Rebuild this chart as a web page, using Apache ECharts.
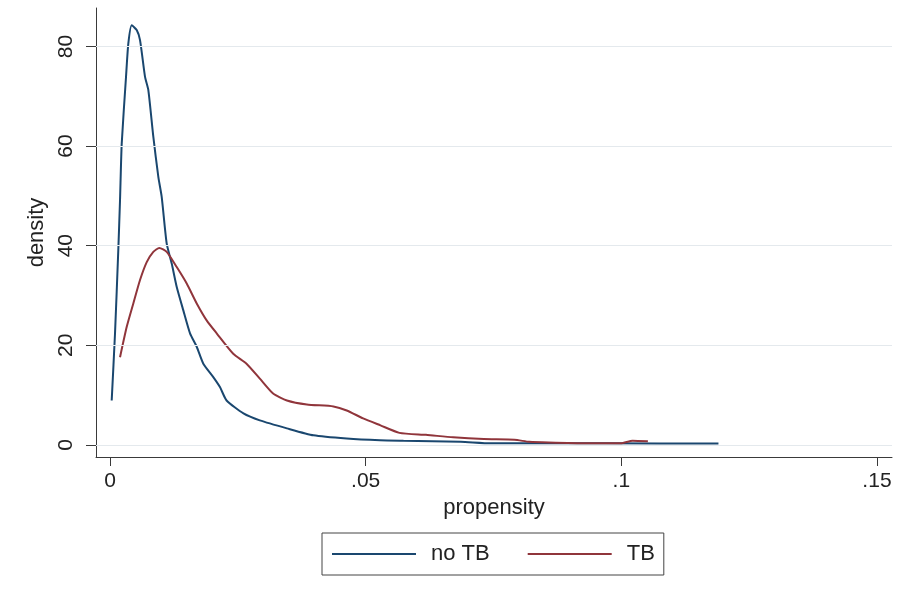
<!DOCTYPE html>
<html>
<head>
<meta charset="utf-8">
<script src="https://cdn.jsdelivr.net/npm/echarts@6/dist/echarts.min.js"></script>
<style>
  html, body { margin: 0; padding: 0; background: #fff; }
  #chart { width: 906px; height: 599px; }
</style>
</head>
<body>
<div id="chart"></div>
<script>
// kernel density of propensity score
const noTB = [
  [0.00033, 8.9], [0.00098, 22.4], [0.00162, 39.1], [0.00196, 49.2],
  [0.00229, 60.5], [0.00313, 73.9], [0.00358, 80.6], [0.00424, 84.3],
  [0.00522, 83.3], [0.00587, 81.3], [0.00685, 73.9], [0.00749, 71.3],
  [0.00847, 61.9], [0.00945, 53.8], [0.01011, 49.8], [0.01109, 40.4],
  [0.01207, 36.4], [0.01305, 31.7], [0.01434, 27.0], [0.01565, 22.4],
  [0.01696, 19.7], [0.01825, 16.3], [0.0202, 13.6], [0.0215, 11.6],
  [0.0228, 8.9], [0.0261, 6.3], [0.0293, 4.9], [0.0346, 3.3],
  [0.0398, 1.9], [0.0463, 1.25], [0.0528, 0.9], [0.0574, 0.8],
  [0.0686, 0.6], [0.0745, 0.3], [0.097, 0.3], [0.119, 0.25]
]

const TB = [
  [0.00196, 17.6], [0.00327, 23.7], [0.00456, 28.4], [0.00587, 33.1],
  [0.00718, 36.7], [0.00847, 38.75], [0.00964, 39.55], [0.01109, 38.75],
  [0.01305, 35.7], [0.0150, 32.4], [0.01696, 28.4], [0.0189, 25.0],
  [0.0209, 22.35], [0.0241, 18.3], [0.0267, 16.3], [0.0293, 13.3],
  [0.0319, 10.3], [0.0346, 8.9], [0.0385, 8.1], [0.0437, 7.7],
  [0.0463, 6.9], [0.0495, 5.3], [0.0529, 3.9], [0.0566, 2.4],
  [0.0618, 2.0], [0.0671, 1.5], [0.0731, 1.15], [0.0791, 1.0],
  [0.0820, 0.6], [0.0858, 0.45], [0.0933, 0.3], [0.0999, 0.3],
  [0.1022, 0.8], [0.1052, 0.7]
]

const xTicks = [0, 0.05, 0.1, 0.15]
const yTicks = [0, 20, 40, 60, 80]
const seriesNames = ['no TB', 'TB']

const chart = echarts.init(document.getElementById('chart'), null, {
  renderer: 'canvas',
  width: 906,
  height: 599,
})

const font = 'Liberation Sans, Arial, sans-serif'
const axisColor = '#3a3a3a'

const option = {
  backgroundColor: '#fff',
  animation: false,
  grid: { left: 96, right: 14, top: 8, bottom: 142 },
  legend: {
    data: seriesNames,
    left: 322,
    top: 533,
    orient: 'horizontal',
    padding: [9, 9, 9, 10],
    borderColor: '#444',
    borderWidth: 1,
    icon: 'rect',
    itemWidth: 84,
    itemHeight: 2,
    itemGap: 38,
    textStyle: {
      fontFamily: font,
      fontSize: 22,
      color: '#222',
      lineHeight: 24,
      padding: [0, 0, 0, 10],
    },
  },
  xAxis: {
    type: 'value',
    min: -0.00274,
    max: 0.15294,
    name: 'propensity',
    nameLocation: 'middle',
    nameGap: 37,
    nameTextStyle: { fontFamily: font, fontSize: 22, color: '#222' },
    splitLine: { show: false },
    axisLine: { show: true, onZero: false, lineStyle: { color: axisColor, width: 1 } },
    axisTick: {
      show: true,
      length: 9,
      customValues: xTicks,
      lineStyle: { color: axisColor },
    },
    axisLabel: {
      customValues: xTicks,
      margin: 14,
      fontFamily: font,
      fontSize: 21,
      color: '#222',
      formatter: (v) => (v === 0 ? '0' : String(v).replace(/^0/, '')),
    },
  },
  yAxis: {
    type: 'value',
    min: -2.45,
    max: 87.74,
    name: 'density',
    nameLocation: 'middle',
    nameRotate: 90,
    nameGap: 40,
    nameTextStyle: { fontFamily: font, fontSize: 22, color: '#222' },
    splitLine: { show: false },
    axisLine: { show: true, onZero: false, lineStyle: { color: axisColor, width: 1 } },
    axisTick: {
      show: true,
      length: 10,
      customValues: yTicks,
      lineStyle: { color: axisColor },
    },
    axisLabel: {
      customValues: yTicks,
      rotate: 90,
      margin: 19,
      fontFamily: font,
      fontSize: 21,
      color: '#222',
    },
  },
  series: [
    {
      // grid lines at the y labels, kept behind the curves
      name: 'grid',
      type: 'line',
      data: [],
      z: 1,
      silent: true,
      markLine: {
        silent: true,
        symbol: 'none',
        label: { show: false },
        lineStyle: { color: '#e4e9ed', type: 'solid', width: 1 },
        data: yTicks.map((v) => ({ yAxis: v })),
      },
    },
    {
      name: 'no TB',
      type: 'line',
      data: noTB,
      z: 3,
      symbol: 'none',
      smooth: 0.2,
      lineStyle: { color: '#1a476f', width: 2 },
      itemStyle: { color: '#1a476f' },
    },
    {
      name: 'TB',
      type: 'line',
      data: TB,
      z: 3,
      symbol: 'none',
      smooth: 0.2,
      lineStyle: { color: '#90353b', width: 2 },
      itemStyle: { color: '#90353b' },
    },
  ],
}

chart.setOption(option)
</script>
</body>
</html>
